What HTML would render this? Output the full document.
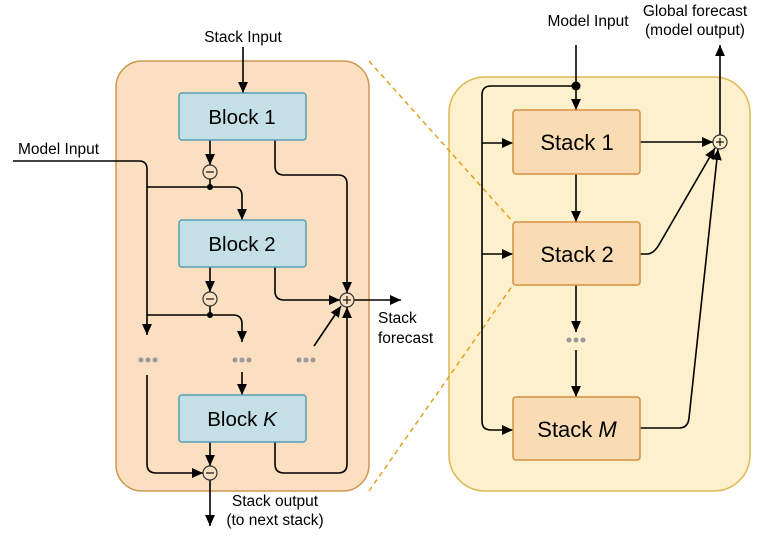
<!DOCTYPE html>
<html><head><meta charset="utf-8"><style>
html,body{margin:0;padding:0;background:#fff;}
svg{display:block;font-family:"Liberation Sans",Arial,sans-serif;}
</style></head><body>
<svg width="762" height="543" viewBox="0 0 762 543" xmlns="http://www.w3.org/2000/svg">
<defs>
<marker id="b" viewBox="0 0 10 10" refX="10" refY="5" markerWidth="11" markerHeight="11" orient="auto" markerUnits="userSpaceOnUse">
<path d="M0,0.5 L10,5 L0,9.5 z" fill="#000"/></marker>
</defs>
<rect x="116" y="61" width="253" height="430" rx="26" fill="#fadfc0" stroke="#cf9550" stroke-width="1.5"/>
<rect x="449" y="77" width="301" height="414" rx="36" fill="#fdf0cc" stroke="#dfb955" stroke-width="1.5"/>
<line x1="369" y1="61" x2="513" y2="222" stroke="#e0a020" stroke-width="1.5" stroke-dasharray="5,4"/>
<line x1="369" y1="491" x2="513" y2="285" stroke="#e0a020" stroke-width="1.5" stroke-dasharray="5,4"/>
<g fill="none" stroke="#000" stroke-width="1.6">
<line x1="243" y1="47" x2="243" y2="93" marker-end="url(#b)"/>
<line x1="210" y1="140" x2="210" y2="165" marker-end="url(#b)"/>
<line x1="210" y1="179" x2="210" y2="187"/>
<path d="M147,187 H233 Q242,187 242,196 V220" marker-end="url(#b)"/>
<path d="M13,161 H139 Q147,161 147,169 V335" marker-end="url(#b)"/>
<line x1="210" y1="267" x2="210" y2="292" marker-end="url(#b)"/>
<line x1="210" y1="306" x2="210" y2="315"/>
<path d="M147,315 H233 Q242,315 242,324 V342" marker-end="url(#b)"/>
<line x1="242" y1="372" x2="242" y2="395" marker-end="url(#b)"/>
<path d="M147,375 V464 Q147,473 156,473 H203" marker-end="url(#b)"/>
<line x1="210" y1="442" x2="210" y2="466" marker-end="url(#b)"/>
<line x1="210" y1="480" x2="210" y2="526" marker-end="url(#b)"/>
<path d="M275,140 V166 Q275,175 284,175 H338 Q347,175 347,184 V293" marker-end="url(#b)"/>
<path d="M275,267 V291 Q275,300 284,300 H340" marker-end="url(#b)"/>
<line x1="314" y1="346" x2="341" y2="306" marker-end="url(#b)"/>
<path d="M275,442 V464 Q275,473 284,473 H338 Q347,473 347,464 V307" marker-end="url(#b)"/>
<line x1="354" y1="300" x2="401" y2="300" marker-end="url(#b)"/>
<line x1="576" y1="45" x2="576" y2="110" marker-end="url(#b)"/>
<path d="M576,86 H491 Q482,86 482,95 V421 Q482,430 491,430 H513" marker-end="url(#b)"/>
<line x1="482" y1="143" x2="513" y2="143" marker-end="url(#b)"/>
<line x1="482" y1="254" x2="513" y2="254" marker-end="url(#b)"/>
<line x1="576" y1="174" x2="576" y2="222" marker-end="url(#b)"/>
<line x1="576" y1="285" x2="576" y2="332" marker-end="url(#b)"/>
<line x1="576" y1="350" x2="576" y2="397" marker-end="url(#b)"/>
<line x1="640" y1="142" x2="713" y2="142" marker-end="url(#b)"/>
<path d="M640,254 H647 Q654,254 660,243 L715,148" marker-end="url(#b)"/>
<path d="M640,428 H679 Q688,428 689,418 L718,149" marker-end="url(#b)"/>
<line x1="720" y1="135" x2="720" y2="45" marker-end="url(#b)"/>
</g>
<circle cx="210" cy="187" r="3" fill="#000"/>
<circle cx="210" cy="315" r="3" fill="#000"/>
<circle cx="576" cy="86" r="4.5" fill="#000"/>
<g fill="#c4dfe5" stroke="#5a9db8" stroke-width="1.5">
<rect x="179" y="93" width="127" height="47" rx="3"/>
<rect x="179" y="220" width="127" height="47" rx="3"/>
<rect x="179" y="395" width="127" height="47" rx="3"/>
</g>
<g fill="#fadcb4" stroke="#d49040" stroke-width="1.5">
<rect x="513" y="110" width="127" height="64" rx="3"/>
<rect x="513" y="222" width="127" height="63" rx="3"/>
<rect x="513" y="397" width="127" height="63" rx="3"/>
</g>
<g fill="#fae0c2" stroke="#333" stroke-width="1.2">
<circle cx="210" cy="172" r="7"/><circle cx="210" cy="299" r="7"/><circle cx="210" cy="473" r="7"/>
<circle cx="347" cy="300" r="7"/>
</g>
<circle cx="720" cy="142" r="7" fill="#fdf0cc" stroke="#333" stroke-width="1.2"/>
<g stroke="#000" stroke-width="1.1">
<line x1="206" y1="172" x2="214" y2="172"/><line x1="206" y1="299" x2="214" y2="299"/><line x1="206" y1="473" x2="214" y2="473"/>
<line x1="343" y1="300" x2="351" y2="300"/><line x1="347" y1="296" x2="347" y2="304"/>
<line x1="716" y1="142" x2="724" y2="142"/><line x1="720" y1="138" x2="720" y2="146"/>
</g>
<g fill="#999">
<circle cx="141" cy="360" r="2.5"/><circle cx="148" cy="360" r="2.5"/><circle cx="155" cy="360" r="2.5"/>
<circle cx="235" cy="360" r="2.5"/><circle cx="242" cy="360" r="2.5"/><circle cx="249" cy="360" r="2.5"/>
<circle cx="299" cy="360" r="2.5"/><circle cx="306" cy="360" r="2.5"/><circle cx="313" cy="360" r="2.5"/>
<circle cx="569" cy="340" r="2.5"/><circle cx="576" cy="340" r="2.5"/><circle cx="583" cy="340" r="2.5"/>
</g>
<g fill="#000" font-size="20.5" text-anchor="middle">
<text x="242" y="124">Block 1</text>
<text x="242" y="251">Block 2</text>
<text x="242" y="426">Block <tspan font-style="italic">K</tspan></text>
</g>
<g fill="#000" font-size="22" text-anchor="middle">
<text x="577" y="150">Stack 1</text>
<text x="577" y="262">Stack 2</text>
<text x="577" y="437">Stack <tspan font-style="italic">M</tspan></text>
</g>
<g fill="#000" font-size="15.5">
<text x="243" y="42" text-anchor="middle">Stack Input</text>
<text x="18" y="154">Model Input</text>
<text x="378" y="323">Stack</text>
<text x="378" y="343">forecast</text>
<text x="275" y="506" text-anchor="middle">Stack output</text>
<text x="275" y="525" text-anchor="middle">(to next stack)</text>
<text x="588" y="26" text-anchor="middle">Model Input</text>
<text x="695" y="16" text-anchor="middle">Global forecast</text>
<text x="695" y="35" text-anchor="middle">(model output)</text>
</g>
</svg>
</body></html>
